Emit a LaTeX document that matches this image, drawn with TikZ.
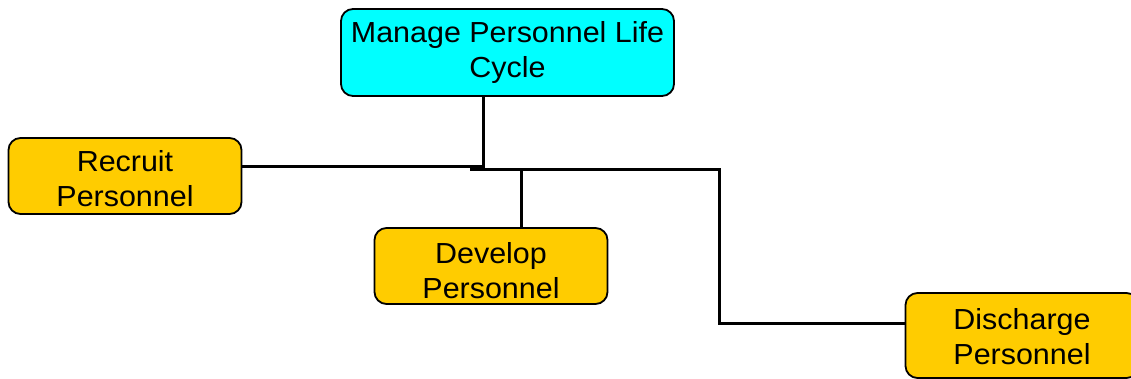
\documentclass[tikz,border=0pt]{standalone}
\usepackage{fontspec}
\setmainfont{Liberation Sans}[FakeStretch=1.05]
\definecolor{topcyan}{RGB}{0,255,255}
\definecolor{subgold}{RGB}{255,204,0}
\begin{document}
\begin{tikzpicture}[x=1pt,y=-1pt,
  box/.style={draw=black, line width=1.8pt, rounded corners=12pt, inner sep=0pt,
    align=center, font=\fontsize{29}{35}\selectfont},
  topbox/.style={box, fill=topcyan, minimum width=333pt, minimum height=87pt},
  subbox/.style={box, fill=subgold, minimum width=233pt, minimum height=76pt},
  conn/.style={draw=black, line width=3pt}]
\useasboundingbox (0,0) rectangle (1131,379);
\clip (0,0) rectangle (1131,379);
\node[topbox] (top) at (507.5,52.5) {Manage Personnel Life\\Cycle};
\node[subbox] (recruit) at (125,176) {\rule{0pt}{27pt}Recruit\\Personnel};
\node[subbox] (develop) at (491,266) {\rule{0pt}{30pt}Develop\\Personnel};
\node[subbox, minimum height=85pt] (discharge) at (1022,335.5) {\rule{0pt}{24pt}Discharge\\Personnel};
\coordinate (j1) at (483,167);
\coordinate (j2) at (470,169.5);
\coordinate (d1) at (521.5,169.5);
\coordinate (k1) at (719,169.5);
\coordinate (k2) at (719,323);
\draw[conn] (top.south -| j1) -- (j1) -- (recruit.east |- j1);
\draw[conn] (develop.north -| d1) -- (d1) -- (j2);
\draw[conn] (discharge.west |- k2) -- (k2) -- (k1) -- (d1);
\end{tikzpicture}
\end{document}
